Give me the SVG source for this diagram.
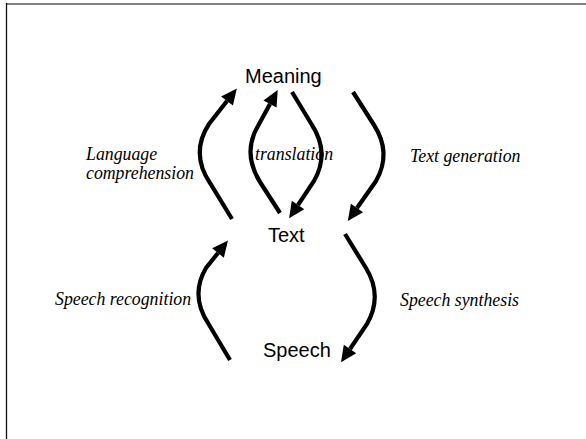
<svg xmlns="http://www.w3.org/2000/svg" width="586" height="439" viewBox="0 0 586 439">
<style>
.node{font-family:"Liberation Sans",Arial,sans-serif;font-size:20px;fill:#000}
.lbl{font-family:"Liberation Serif","Times New Roman",serif;font-style:italic;font-size:17.8px;fill:#000}
.arr{fill:none;stroke:#000;stroke-width:4.2;marker-end:url(#ah)}
</style>
<defs>
<marker id="ah" markerUnits="userSpaceOnUse" markerWidth="16" markerHeight="15" refX="0" refY="7.5" orient="auto" overflow="visible">
<path d="M0,0 L16,7.5 L0,15 z" fill="#000"/>
</marker>
</defs>
<rect width="586" height="439" fill="#fff"/>
<line x1="6" y1="4" x2="586" y2="4" stroke="#808080" stroke-width="2"/>
<line x1="6.5" y1="3" x2="6.5" y2="439" stroke="#111" stroke-width="1.3"/>
<g id="connectors">
<path class="arr" d="M232,219 L210,183 Q190,153 209,124 L227,101"/>
<path class="arr" d="M280,213 L260,182 Q242,153 258,126 L270,104"/>
<path class="arr" d="M292,92 L312,125 Q330,153 314,181 L298,205"/>
<path class="arr" d="M353,92 L374,125 Q392,153 376,181 L357,208"/>
<path class="arr" d="M230,360 L208,323 Q190,295 206,268 L218,253"/>
<path class="arr" d="M345,234 L366,268 Q383,296 367,324 L350,349"/>
</g>
<g id="meaning"><text class="node" x="245" y="83">Meaning</text></g>
<g id="text"><text class="node" x="268" y="242">Text</text></g>
<g id="speech"><text class="node" x="263" y="357">Speech</text></g>
<g id="labels">
<text class="lbl" x="86" y="160">Language</text>
<text class="lbl" x="86" y="179">comprehension</text>
<text class="lbl" x="255" y="160">translation</text>
<text class="lbl" x="410" y="162">Text generation</text>
<text class="lbl" x="55" y="305">Speech recognition</text>
<text class="lbl" x="400" y="306">Speech synthesis</text>
</g>
</svg>
